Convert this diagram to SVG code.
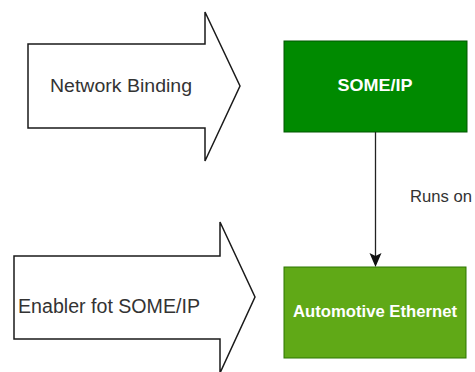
<svg xmlns="http://www.w3.org/2000/svg" width="475" height="372" viewBox="0 0 475 372">
  <defs>
    <style>
      .arrow { fill: #ffffff; stroke: #1a1a1a; stroke-width: 1.5; stroke-linejoin: miter; }
      .label { font-family: "Liberation Sans", Arial, sans-serif; fill: #333333; }
      .boxlabel { font-family: "Liberation Sans", Arial, sans-serif; fill: #ffffff; font-weight: bold; text-anchor: middle; }
      .edge { stroke: #222222; stroke-width: 1.3; fill: none; }
    </style>
  </defs>

  <rect width="475" height="372" fill="#ffffff"/>

  <!-- Block arrow: Network Binding -->
  <g id="network-binding">
    <path class="arrow" d="M28,44 L205,44 L205,12 L240,86 L205,161 L205,128 L28,128 Z"/>
    <text class="label" x="50" y="92" font-size="18" textLength="142" lengthAdjust="spacingAndGlyphs">Network Binding</text>
  </g>

  <!-- Block arrow: Enabler fot SOME/IP -->
  <g id="enabler">
    <path class="arrow" d="M14,256 L220,256 L220,222 L255,297 L220,373 L220,339 L14,339 Z"/>
    <text class="label" x="18" y="313" font-size="20" textLength="182" lengthAdjust="spacingAndGlyphs">Enabler fot SOME/IP</text>
  </g>

  <!-- SOME/IP box -->
  <g id="someip">
    <rect x="284" y="41" width="183" height="91" fill="#008a00" stroke="#005700" stroke-width="1"/>
    <text class="boxlabel" x="375" y="91" font-size="16.5" textLength="75" lengthAdjust="spacingAndGlyphs">SOME/IP</text>
  </g>

  <!-- Automotive Ethernet box -->
  <g id="automotive-ethernet">
    <rect x="284" y="267" width="182" height="91" fill="#60a917" stroke="#2d7600" stroke-width="1"/>
    <text class="boxlabel" x="375" y="317" font-size="17" textLength="164" lengthAdjust="spacingAndGlyphs">Automotive Ethernet</text>
  </g>

  <!-- Connectors -->
  <g id="connectors">
    <path class="edge" d="M375.5,132 L375.5,256"/>
    <path d="M369.5,253 L375.5,256 L381.5,253 L375.5,267 Z" fill="#111111"/>
    <text class="label" x="410" y="202" font-size="17" textLength="62" lengthAdjust="spacingAndGlyphs">Runs on</text>
  </g>
</svg>
